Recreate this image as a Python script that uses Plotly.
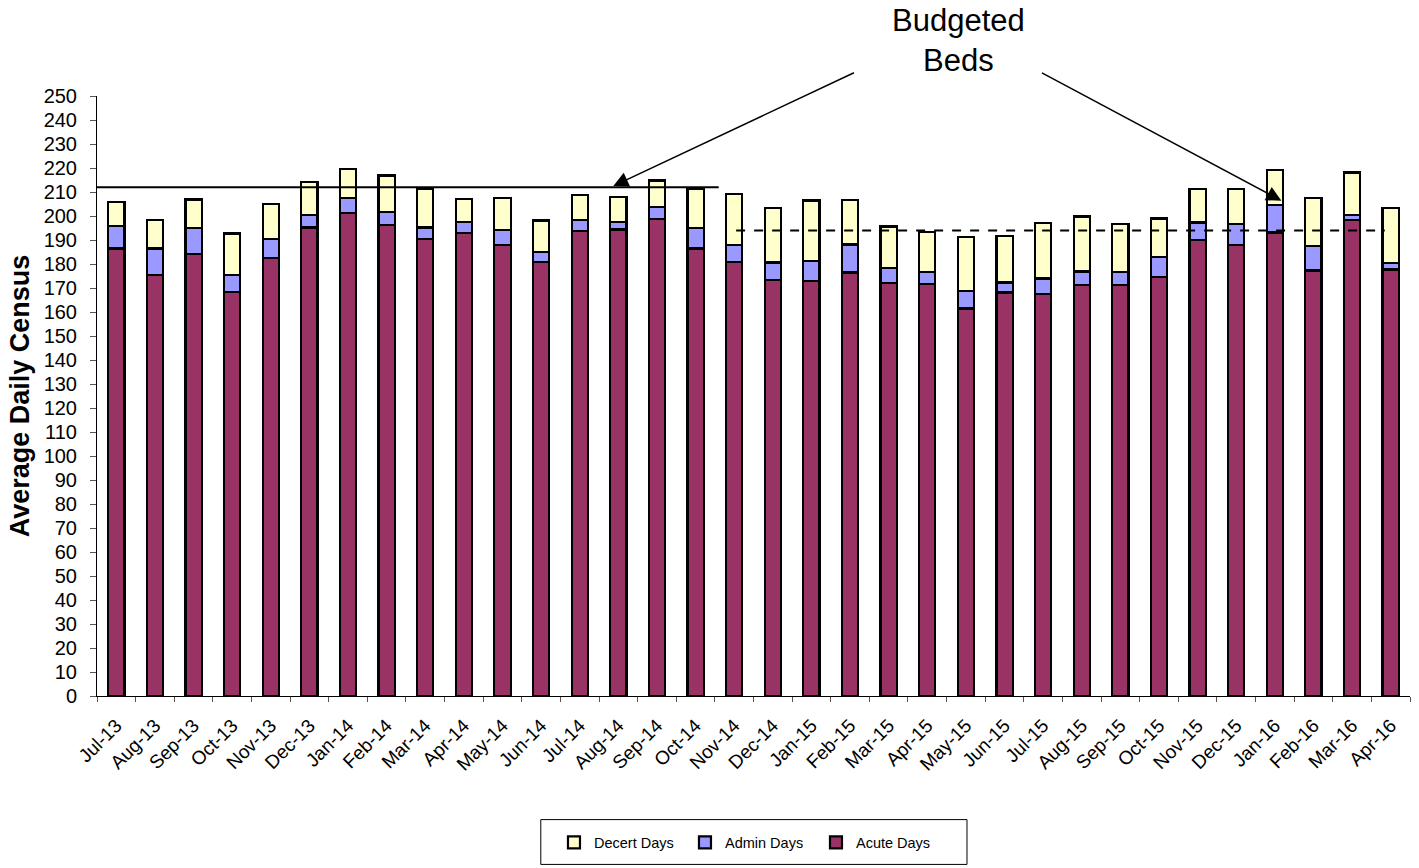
import plotly.graph_objects as go

# Monthly average daily census, split by day type
months = [
    "Jul-13", "Aug-13", "Sep-13", "Oct-13", "Nov-13", "Dec-13",
    "Jan-14", "Feb-14", "Mar-14", "Apr-14", "May-14", "Jun-14",
    "Jul-14", "Aug-14", "Sep-14", "Oct-14", "Nov-14", "Dec-14",
    "Jan-15", "Feb-15", "Mar-15", "Apr-15", "May-15", "Jun-15",
    "Jul-15", "Aug-15", "Sep-15", "Oct-15", "Nov-15", "Dec-15",
    "Jan-16", "Feb-16", "Mar-16", "Apr-16",
]
acute_days = [
    186.5, 175.5, 184.1, 168.5, 182.4, 195.2,
    201.3, 196.4, 190.3, 192.8, 188.0, 180.8,
    193.8, 194.4, 198.9, 186.5, 180.9, 173.2,
    172.9, 176.5, 172.1, 171.8, 161.5, 168.1,
    167.6, 171.1, 171.1, 174.5, 190.1, 188.0,
    193.1, 177.3, 198.5, 177.7,
]
admin_days = [
    9.2, 11.0, 10.8, 6.9, 8.1, 5.1,
    6.2, 5.4, 4.9, 4.6, 6.2, 4.3,
    4.4, 3.1, 4.9, 8.5, 7.1, 7.4,
    8.3, 11.6, 6.3, 4.8, 7.1, 4.2,
    6.4, 5.8, 5.5, 8.5, 7.2, 8.7,
    11.5, 10.1, 1.9, 2.8,
]
decert_days = [
    10.1, 11.7, 12.0, 17.3, 14.6, 13.9,
    12.2, 15.1, 16.3, 9.7, 13.3, 13.0,
    10.7, 10.3, 11.0, 16.5, 21.3, 22.8,
    25.3, 18.7, 17.2, 16.9, 22.8, 19.3,
    23.0, 22.9, 20.1, 16.0, 13.8, 14.4,
    14.5, 20.0, 17.7, 22.9,
]

# Budgeted beds: (first month, last month, beds)
budget_periods = [
    ("Jul-13", "Oct-14", 212),
    ("Nov-14", "Apr-16", 194),
]

y_ticks = list(range(0, 251, 10))

FONT = "Liberation Sans, Arial, sans-serif"
BAR_LINE = dict(color="black", width=2.2)

fig = go.Figure()
fig.add_bar(name="Acute Days", x=months, y=acute_days,
            marker=dict(color="#993366", line=BAR_LINE))
fig.add_bar(name="Admin Days", x=months, y=admin_days,
            marker=dict(color="#9999FF", line=BAR_LINE))
fig.add_bar(name="Decert Days", x=months, y=decert_days,
            marker=dict(color="#FFFFCC", line=BAR_LINE))

# Budget reference lines: solid for the first period, dashed for the second
first, last, beds = budget_periods[0]
fig.add_shape(type="line", xref="x", yref="y",
              x0=months.index(first) - 0.5, x1=months.index(last) + 0.6,
              y0=beds, y1=beds, line=dict(color="black", width=2))
first, last, beds = budget_periods[1]
fig.add_shape(type="line", xref="x", yref="y",
              x0=months.index(first) + 0.05, x1=months.index(last) - 0.15,
              y0=beds, y1=beds, line=dict(color="black", width=2, dash="dash"))

# Callout label with arrows pointing at each budget line
fig.add_annotation(text="Budgeted<br>Beds", xref="paper", yref="paper",
                   x=0.656, y=1.158, showarrow=False,
                   font=dict(family=FONT, size=31, color="black"))
fig.add_annotation(x=12.87, y=212.5, ax=19.14, ay=260, xref="x", yref="y",
                   axref="x", ayref="y", text="", showarrow=True,
                   arrowhead=2, arrowsize=2, arrowwidth=1.5, arrowcolor="black")
fig.add_annotation(x=30.17, y=206.4, ax=23.93, ay=260, xref="x", yref="y",
                   axref="x", ayref="y", text="", showarrow=True,
                   arrowhead=2, arrowsize=2, arrowwidth=1.5, arrowcolor="black")

# Frame around the legend
fig.add_shape(type="rect", xref="paper", yref="paper",
              x0=0.338, x1=0.6626, y0=-0.2807, y1=-0.206,
              line=dict(color="black", width=1), fillcolor="rgba(0,0,0,0)")

fig.update_layout(
    width=1419, height=868,
    margin=dict(l=97, r=9, t=96, b=170),
    paper_bgcolor="white", plot_bgcolor="white",
    barmode="stack", bargap=0.58,
    font=dict(family=FONT, color="black"),
    showlegend=True,
    legend=dict(orientation="h", traceorder="reversed",
                x=0.4977, xanchor="center", y=-0.244, yanchor="middle",
                font=dict(family=FONT, size=14.5, color="black"),
                entrywidth=86, entrywidthmode="pixels",
                bgcolor="rgba(0,0,0,0)", borderwidth=0),
    xaxis=dict(type="category", range=[-0.5, len(months) - 0.5],
               showline=True, linecolor="black", linewidth=1,
               ticks="outside", tickson="boundaries", ticklen=5,
               tickcolor="#555555", tickangle=-45, ticklabelstandoff=10,
               tickfont=dict(family=FONT, size=19, color="black"),
               showgrid=False, zeroline=False),
    yaxis=dict(range=[0, 250], tickvals=y_ticks,
               showline=True, linecolor="black", linewidth=1,
               ticks="outside", ticklen=6, tickcolor="#555555",
               ticklabelstandoff=9,
               tickfont=dict(family=FONT, size=20, color="black"),
               showgrid=False, zeroline=False,
               title=dict(text="<b>Average Daily Census</b>", standoff=6,
                          font=dict(family=FONT, size=27, color="black"))),
)

fig.write_html("out.html")
